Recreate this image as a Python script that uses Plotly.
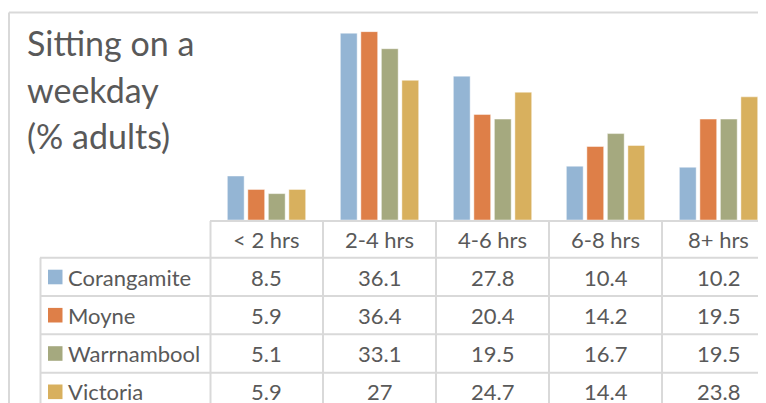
import plotly.graph_objects as go

categories = ["< 2 hrs", "2-4 hrs", "4-6 hrs", "6-8 hrs", "8+ hrs"]
series_names = ["Corangamite", "Moyne", "Warrnambool", "Victoria"]
corangamite = [8.5, 36.1, 27.8, 10.4, 10.2]
moyne = [5.9, 36.4, 20.4, 14.2, 19.5]
warrnambool = [5.1, 33.1, 19.5, 16.7, 19.5]
victoria = [5.9, 27, 24.7, 14.4, 23.8]
series_values = [corangamite, moyne, warrnambool, victoria]
colors = ["#94B5D4", "#DE7F48", "#A5A97F", "#D8B05E"]
title_lines = ["Sitting on a", "weekday", "(% adults)"]

# page has an 8px body margin; the figure is sized to fill the rest of the window
OFF = 8
W, H = 766 - OFF, 403 - OFF
FONT = "Lato"
TXT = "#595959"
GRID = "#D9D9D9"


def px(x):
    return (x - OFF) / W


def py(y):
    return 1 - (y - OFF) / H


fig = go.Figure()
for name, vals, col in zip(series_names, series_values, colors):
    fig.add_trace(go.Bar(
        x=categories, y=vals, name=name,
        marker=dict(color=col, line=dict(color="rgba(255,255,255,0.45)", width=1)),
        hoverinfo="x+y+name",
    ))

shapes = []
LW = 2
# outer chart border
shapes.append(dict(type="line", xref="paper", yref="paper", x0=px(9), x1=px(780), y0=py(12.5), y1=py(12.5),
                   line=dict(color=GRID, width=LW)))
shapes.append(dict(type="line", xref="paper", yref="paper", x0=px(9), x1=px(9), y0=py(12.5), y1=py(420),
                   line=dict(color=GRID, width=LW)))
# table horizontal lines
shapes.append(dict(type="line", xref="paper", yref="paper", x0=px(210), x1=px(780), y0=py(221), y1=py(221),
                   line=dict(color=GRID, width=LW)))
row_lines = [257.7, 296, 334.3, 372.7]
for yl in row_lines:
    shapes.append(dict(type="line", xref="paper", yref="paper", x0=px(40), x1=px(780), y0=py(yl), y1=py(yl),
                       line=dict(color=GRID, width=LW)))
# table vertical lines
shapes.append(dict(type="line", xref="paper", yref="paper", x0=px(40.5), x1=px(40.5), y0=py(257.7), y1=py(420),
                   line=dict(color=GRID, width=LW)))
shapes.append(dict(type="line", xref="paper", yref="paper", x0=px(210.5), x1=px(210.5), y0=py(221), y1=py(420),
                   line=dict(color=GRID, width=LW)))
for i in range(len(categories) - 1):
    shapes.append(dict(type="line", xref="x", yref="paper", x0=i + 0.5, x1=i + 0.5, y0=py(221), y1=py(420),
                       line=dict(color=GRID, width=LW)))

row_centers = [277, 315.2, 353.5, 391.8]
annotations = []
TS = 22
# header
for c in categories:
    annotations.append(dict(x=c, xref="x", y=py(239.5), yref="paper", text=c, showarrow=False,
                            xanchor="center", yanchor="middle", font=dict(family=FONT, size=TS, color=TXT)))
# rows
for r, (name, vals, col) in enumerate(zip(series_names, series_values, colors)):
    yc = row_centers[r]
    shapes.append(dict(type="rect", xref="paper", yref="paper", x0=px(48), x1=px(62.5), y0=py(yc - 7.3),
                       y1=py(yc + 7.3), fillcolor=col, line=dict(width=0)))
    annotations.append(dict(x=px(66), xref="paper", y=py(yc), yref="paper", text=name, showarrow=False,
                            xanchor="left", yanchor="middle", font=dict(family=FONT, size=TS, color=TXT)))
    for c, v in zip(categories, vals):
        annotations.append(dict(x=c, xref="x", y=py(yc), yref="paper", text=f"{v:g}", showarrow=False,
                                xanchor="center", yanchor="middle", font=dict(family=FONT, size=TS, color=TXT)))
# title
for i, t in enumerate(title_lines):
    annotations.append(dict(x=px(25), xref="paper", y=py(42 + 47 * i), yref="paper", text=t, showarrow=False,
                            xanchor="left", yanchor="middle", font=dict(family=FONT, size=34, color=TXT)))

fig.update_layout(
    width=W, height=H,
    margin=dict(l=0, r=0, t=0, b=0),
    paper_bgcolor="white", plot_bgcolor="white",
    barmode="group", bargap=0.274, bargroupgap=0.18,
    showlegend=False,
    xaxis=dict(domain=[px(210), 1], range=[-0.5, 4.42], visible=False, type="category"),
    yaxis=dict(domain=[py(220), py(13)], range=[0, 40], visible=False),
    shapes=shapes, annotations=annotations,
)
fig.write_html("out.html")
